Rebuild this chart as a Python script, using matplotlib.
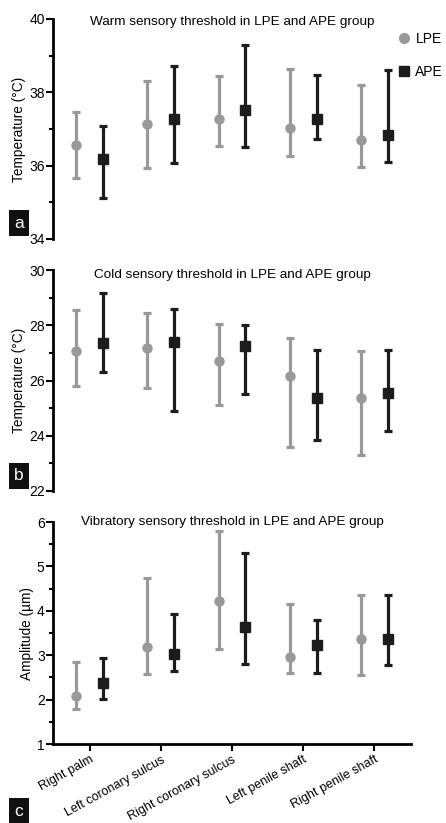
import numpy as np
import matplotlib
matplotlib.use('Agg')
import matplotlib.pyplot as plt
from matplotlib.lines import Line2D

plt.rcParams['font.family'] = ['Liberation Sans', 'DejaVu Sans']

# categories (sites)
sites = ['Right palm', 'Left coronary sulcus', 'Right coronary sulcus',
         'Left penile shaft', 'Right penile shaft']

# warm threshold (deg C): mean, upper, lower
warm_lpe = [36.57, 37.13, 37.26, 37.02, 36.69]
warm_lpe_hi = [37.47, 38.31, 38.45, 38.63, 38.20]
warm_lpe_lo = [35.67, 35.94, 36.54, 36.27, 35.96]
warm_ape = [36.19, 37.27, 37.52, 37.27, 36.84]
warm_ape_hi = [37.08, 38.72, 39.30, 38.48, 38.61]
warm_ape_lo = [35.12, 36.07, 36.50, 36.72, 36.11]

# cold threshold (deg C)
cold_lpe = [27.07, 27.18, 26.71, 26.15, 25.36]
cold_lpe_hi = [28.54, 28.46, 28.06, 27.54, 27.07]
cold_lpe_lo = [25.80, 25.73, 25.10, 23.59, 23.32]
cold_ape = [27.36, 27.40, 27.26, 25.36, 25.56]
cold_ape_hi = [29.15, 28.58, 28.00, 27.12, 27.12]
cold_ape_lo = [26.31, 24.89, 25.50, 23.86, 24.19]

# vibratory threshold (um)
vib_lpe = [2.08, 3.19, 4.21, 2.97, 3.37]
vib_lpe_hi = [2.85, 4.74, 5.79, 4.16, 4.35]
vib_lpe_lo = [1.78, 2.58, 3.15, 2.59, 2.55]
vib_ape = [2.38, 3.02, 3.64, 3.24, 3.37]
vib_ape_hi = [2.94, 3.92, 5.30, 3.79, 4.35]
vib_ape_lo = [2.02, 2.64, 2.81, 2.59, 2.77]

GREY = '#999999'
BLACK = '#1c1c1c'

fig = plt.figure(figsize=(4.46, 8.23), dpi=100)
W, H = 446, 823


def box(top_px, bot_px):
    return [53 / W, 1 - bot_px / H, (411 - 53) / W, (bot_px - top_px) / H]


def draw(ax, lpe, lpe_hi, lpe_lo, ape, ape_hi, ape_lo, ylim, major, minor, ylabel, title, ty):
    x = np.arange(len(sites))
    off = 0.19
    lpe = np.array(lpe); ape = np.array(ape)
    ax.errorbar(x - off, lpe, yerr=[lpe - np.array(lpe_lo), np.array(lpe_hi) - lpe],
                fmt='o', color=GREY, ms=6.5, elinewidth=2.3, capsize=3, capthick=2.3)
    ax.errorbar(x + off, ape, yerr=[ape - np.array(ape_lo), np.array(ape_hi) - ape],
                fmt='s', color=BLACK, ms=7, elinewidth=2.3, capsize=3, capthick=2.3)
    ax.set_xlim(-0.52, 4.52)
    ax.set_ylim(*ylim)
    ax.set_yticks(major)
    ax.set_yticks(minor, minor=True)
    ax.tick_params(axis='y', which='major', length=5, width=1.5, labelsize=10, pad=1)
    ax.tick_params(axis='y', which='minor', length=3, width=1.5)
    ax.spines['left'].set_linewidth(2)
    for s in ['top', 'right']:
        ax.spines[s].set_visible(False)
    ax.set_ylabel(ylabel, fontsize=9.8, labelpad=2)
    ax.text(0.5, ty, title, transform=ax.transAxes, ha='center', va='center', fontsize=9.7)
    return ax


ax1 = fig.add_axes(box(19, 239))
draw(ax1, warm_lpe, warm_lpe_hi, warm_lpe_lo, warm_ape, warm_ape_hi, warm_ape_lo,
     (34, 40), [34, 36, 38, 40], [35, 37, 39], 'Temperature (°C)',
     'Warm sensory threshold in LPE and APE group', 0.985)
ax1.spines['bottom'].set_visible(False)
ax1.set_xticks([])
handles = [Line2D([], [], marker='o', color=GREY, ls='none', ms=7),
           Line2D([], [], marker='s', color=BLACK, ls='none', ms=7)]
ax1.legend(handles, ['LPE', 'APE'], loc='upper left', bbox_to_anchor=(0.962, 0.94),
           frameon=False, fontsize=10, handletextpad=0.3, handlelength=1.0,
           labelspacing=1.35, borderaxespad=0, borderpad=0)

ax2 = fig.add_axes(box(270, 491))
draw(ax2, cold_lpe, cold_lpe_hi, cold_lpe_lo, cold_ape, cold_ape_hi, cold_ape_lo,
     (22, 30), [22, 24, 26, 28, 30], [23, 25, 27, 29], 'Temperature (°C)',
     'Cold sensory threshold in LPE and APE group', 0.977)
ax2.spines['bottom'].set_visible(False)
ax2.set_xticks([])

ax3 = fig.add_axes(box(522, 744))
draw(ax3, vib_lpe, vib_lpe_hi, vib_lpe_lo, vib_ape, vib_ape_hi, vib_ape_lo,
     (1, 6), [1, 2, 3, 4, 5, 6], [1.5, 2.5, 3.5, 4.5, 5.5], 'Amplitude (µm)',
     'Vibratory sensory threshold in LPE and APE group', 1.0)
ax3.spines['bottom'].set_linewidth(2)
ax3.set_xticks(np.arange(len(sites)))
ax3.set_xticklabels(sites, rotation=29, ha='right', rotation_mode='anchor', fontsize=9.0)
ax3.tick_params(axis='x', length=5, width=1.5, pad=2)

# panel letters
for letter, ypx in [('a', 223), ('b', 476), ('c', 811)]:
    fig.text(19 / W, 1 - ypx / H, letter, color='white', fontsize=12.5, ha='center', va='center',
             bbox=dict(boxstyle='square,pad=0.3', facecolor='#111111', edgecolor='none'))

fig.savefig('out.png', dpi=100)
